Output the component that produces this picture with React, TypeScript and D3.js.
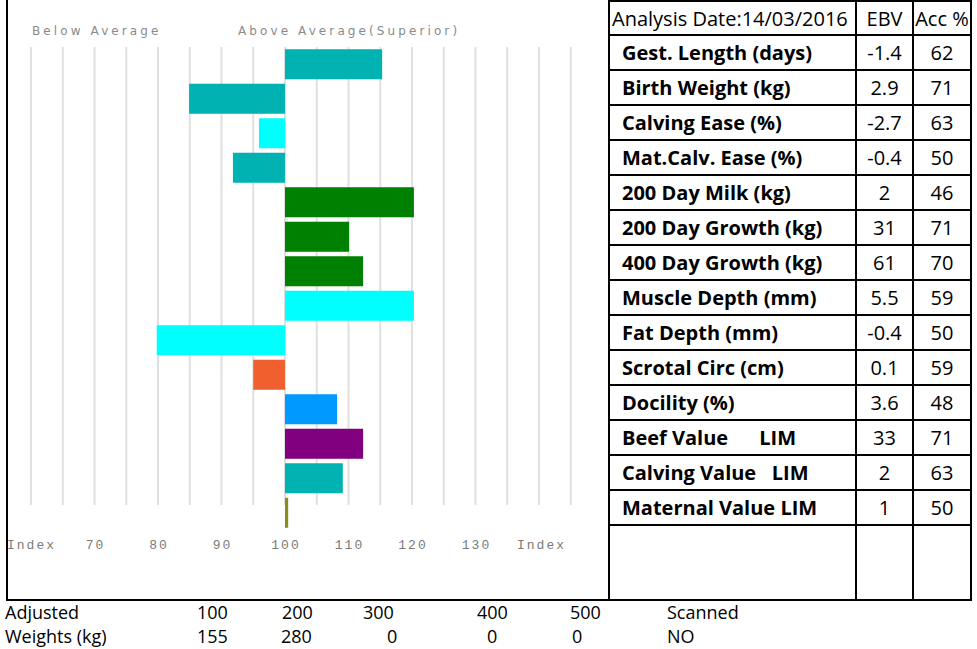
import React from "react";
import * as d3 from "d3";

const traits = [
  "Gest. Length (days)",
  "Birth Weight (kg)",
  "Calving Ease (%)",
  "Mat.Calv. Ease (%)",
  "200 Day Milk (kg)",
  "200 Day Growth (kg)",
  "400 Day Growth (kg)",
  "Muscle Depth (mm)",
  "Fat Depth (mm)",
  "Scrotal Circ (cm)",
  "Docility (%)",
  "Beef Value      LIM",
  "Calving Value   LIM",
  "Maternal Value LIM",
];
const ebv = ["-1.4", "2.9", "-2.7", "-0.4", "2", "31", "61", "5.5", "-0.4", "0.1", "3.6", "33", "2", "1"];
const acc = ["62", "71", "63", "50", "46", "71", "70", "59", "50", "59", "48", "71", "63", "50"];
const indexValues = [115.3, 84.9, 95.9, 91.8, 120.3, 110.1, 112.3, 120.3, 79.8, 95, 108.2, 112.3, 109.1, 100.5];
const barColors = [
  "#00b2b2", "#00b2b2", "#00ffff", "#00b2b2", "#008000", "#008000", "#008000",
  "#00ffff", "#00ffff", "#f05f2e", "#0099ff", "#800080", "#00b2b2", "#8c8c1a",
];
const tickLabels = [70, 80, 90, 100, 110, 120, 130];
const gridValues = d3.range(60, 146, 5);
const weightHeaders = ["Adjusted", "100", "200", "300", "400", "500", "Scanned"];
const weightValues = ["Weights (kg)", "155", "280", "0", "0", "0", "NO"];

// layout
const headerX = [5, 197, 282, 363, 477, 570, 667];
const valueX = [5, 197, 281, 387, 487, 572, 667];

export default function App() {
  const x = d3.scaleLinear().domain([60, 140]).range([31, 539]);
  const y = d3
    .scaleBand<number>()
    .domain(d3.range(indexValues.length))
    .range([47, 530])
    .paddingInner(0.13)
    .paddingOuter(0.065);

  const tableX = [609, 856, 913, 971];
  const rowH = 35;
  const tableTop = 1;
  const rowY = (i: number) => tableTop + rowH * (i + 1) - 1;
  const tableFont = "'Open Sans', Lato, sans-serif";
  const fs = 20;

  return (
    <svg
      width={977}
      height={649}
      style={{ position: "absolute", left: 0, top: 0, background: "#fff" }}
    >
      {/* headers */}
      <text x={32} y={35} fontFamily="'DejaVu Sans', Verdana, sans-serif" fontSize={12} fill="#8a8a8a" letterSpacing={3.1}>
        Below Average
      </text>
      <text x={238} y={35} fontFamily="'DejaVu Sans', Verdana, sans-serif" fontSize={12} fill="#8a8a8a" letterSpacing={3.1}>
        Above Average(Superior)
      </text>

      {/* gridlines */}
      {gridValues.map((g) => (
        <line key={g} x1={x(g)} x2={x(g)} y1={47} y2={505} stroke="#e0e0e0" strokeWidth={2} />
      ))}

      {/* bars */}
      {indexValues.map((v, i) => (
        <rect
          key={i}
          x={x(Math.min(v, 100))}
          y={y(i)}
          width={Math.abs(x(v) - x(100))}
          height={y.bandwidth()}
          fill={barColors[i]}
        />
      ))}

      {/* axis labels */}
      <text x={7} y={549} fontFamily="'Liberation Mono', 'Courier New', monospace" fontSize={13} fill="#7a7a7a" letterSpacing={2}>
        Index
      </text>
      {tickLabels.map((t) => (
        <text key={t} x={x(t) + 1} y={549} textAnchor="middle" fontFamily="'Liberation Mono', 'Courier New', monospace" fontSize={13} fill="#7a7a7a" letterSpacing={2}>
          {t}
        </text>
      ))}
      <text x={517} y={549} fontFamily="'Liberation Mono', 'Courier New', monospace" fontSize={13} fill="#7a7a7a" letterSpacing={2}>
        Index
      </text>

      {/* chart frame */}
      <line x1={7} x2={7} y1={0} y2={600} stroke="#000" strokeWidth={2} />
      <line x1={6} x2={972} y1={600} y2={600} stroke="#000" strokeWidth={2} />

      {/* table */}
      <line x1={609} x2={972} y1={tableTop} y2={tableTop} stroke="#000" strokeWidth={2} />
      {traits.map((_, i) => (
        <line key={i} x1={609} x2={972} y1={rowY(i)} y2={rowY(i)} stroke="#000" strokeWidth={2} />
      ))}
      <line x1={609} x2={972} y1={rowY(traits.length)} y2={rowY(traits.length)} stroke="#000" strokeWidth={2} />
      {tableX.map((tx, i) => (
        <line key={i} x1={tx} x2={tx} y1={0} y2={600} stroke="#000" strokeWidth={2} />
      ))}

      <text x={612} y={26} fontFamily={tableFont} fontSize={fs} fill="#000">
        Analysis Date:14/03/2016
      </text>
      <text x={884.5} y={26} textAnchor="middle" fontFamily={tableFont} fontSize={fs} fill="#000">
        EBV
      </text>
      <text x={942} y={26} textAnchor="middle" fontFamily={tableFont} fontSize={fs} fill="#000">
        Acc %
      </text>

      {traits.map((t, i) => (
        <g key={t}>
          <text x={622} y={rowY(i) + 25} fontFamily={tableFont} fontSize={fs} fontWeight="bold" fill="#000" style={{ whiteSpace: "pre" }}>
            {t}
          </text>
          <text x={884.5} y={rowY(i) + 25} textAnchor="middle" fontFamily={tableFont} fontSize={fs} fill="#000">
            {ebv[i]}
          </text>
          <text x={942} y={rowY(i) + 25} textAnchor="middle" fontFamily={tableFont} fontSize={fs} fill="#000">
            {acc[i]}
          </text>
        </g>
      ))}

      {/* weights */}
      {weightHeaders.map((w, i) => (
        <text key={"h" + i} x={headerX[i]} y={619} fontFamily={tableFont} fontSize={18} fill="#000">
          {w}
        </text>
      ))}
      {weightValues.map((w, i) => (
        <text key={"v" + i} x={valueX[i]} y={643} fontFamily={tableFont} fontSize={18} fill="#000">
          {w}
        </text>
      ))}
    </svg>
  );
}
